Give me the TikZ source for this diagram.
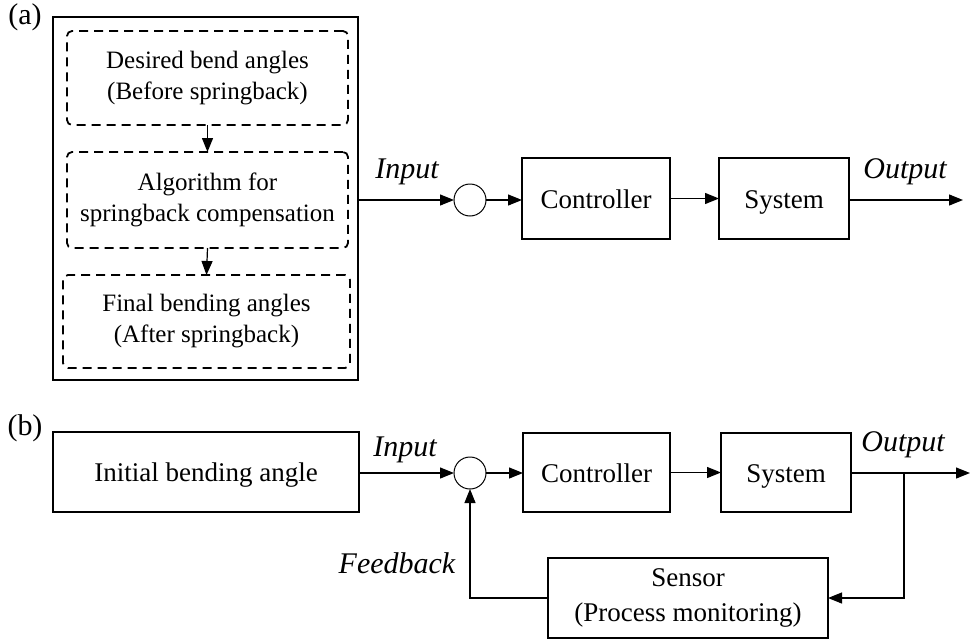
\documentclass[tikz,border=0pt]{standalone}
\usepackage{fontspec}
\setmainfont{Liberation Serif}
\usetikzlibrary{arrows.meta}
\begin{document}
\begin{tikzpicture}[x=1pt,y=-1pt,
  blk/.style={draw,line width=2pt,inner sep=0pt,outer sep=0pt,align=center,
    font=\fontsize{27}{35}\selectfont},
  oneline/.style={text height=25pt,text depth=6pt},
  dbox/.style={draw,line width=1.8pt,dash pattern=on 9pt off 6pt,rounded corners=5pt,
    inner sep=0pt,outer sep=0pt,align=center,font=\fontsize{25}{31}\selectfont},
  sumc/.style={draw,circle,line width=1pt,minimum size=32pt,inner sep=0pt,outer sep=0pt},
  conn/.style={line width=1.2pt,-{Triangle[length=14pt,width=11pt]}},
  lab/.style={font=\fontsize{30}{34}\selectfont\itshape,inner sep=0pt},
  part/.style={font=\fontsize{30}{34}\selectfont,inner sep=0pt}
]
\useasboundingbox (0,0) rectangle (972,640);

% ---------- (a) ----------
\node[part] (pa) at (25,17) {(a)};
\node[draw,line width=2pt,minimum width=305pt,minimum height=363pt,inner sep=0pt,outer sep=0pt] (outer) at (205.5,198.5) {};
\node[dbox,minimum width=281pt,minimum height=94pt] (d1) at (207.5,78) {Desired bend angles\\(Before springback)};
\node[dbox,minimum width=281pt,minimum height=96pt] (d2) at (207.5,200) {Algorithm for\\springback compensation};
\node[dbox,minimum width=287pt,minimum height=93pt] (d3) at (206.5,321.5) {Final bending angles\\(After springback)};
\draw[conn] (d1.south) -- (d2.north);
\draw[conn] (d2.south) -- (d3.north);

\node[sumc] (c1) at (470,200) {};
\node[blk,oneline,minimum width=148pt,minimum height=81pt] (ctrl1) at (596,198.5) {Controller};
\node[blk,oneline,minimum width=130pt,minimum height=81pt] (sys1) at (784,198.5) {System};
\coordinate (out1) at (963,200);
\draw[conn] (outer.east |- c1.west) -- (c1.west);
\draw[conn] (c1.east) -- (ctrl1.west |- c1.east);
\draw[conn] (ctrl1.east) -- (sys1.west);
\draw[conn] (sys1.east |- out1) -- (out1);
\node[lab] (in1) at (407,172) {Input};
\node[lab] (o1) at (905,172) {Output};

% ---------- (b) ----------
\node[part] (pb) at (25,428) {(b)};
\node[blk,oneline,minimum width=306pt,minimum height=80pt] (init) at (206,472) {Initial bending angle};
\node[sumc] (c2) at (470,473) {};
\node[blk,oneline,minimum width=147pt,minimum height=79pt] (ctrl2) at (596.5,472.5) {Controller};
\node[blk,oneline,minimum width=130pt,minimum height=79pt] (sys2) at (786,472.5) {System};
\node[blk,minimum width=280pt,minimum height=80pt] (sens) at (688,598) {Sensor\\(Process monitoring)};
\coordinate (out2) at (970,473);
\coordinate (br) at (904,473);
\draw[conn] (init.east |- c2.west) -- (c2.west);
\draw[conn] (c2.east) -- (ctrl2.west |- c2.east);
\draw[conn] (ctrl2.east) -- (sys2.west);
\draw[conn] (sys2.east |- out2) -- (out2);
\draw[conn] (br) |- (sens.east);
\draw[conn] (sens.west) -| (c2.south);
\node[lab] (in2) at (405,450) {Input};
\node[lab] (o2) at (903,445) {Output};
\node[lab] (fbl) at (397,563) {Feedback};
\end{tikzpicture}
\end{document}
